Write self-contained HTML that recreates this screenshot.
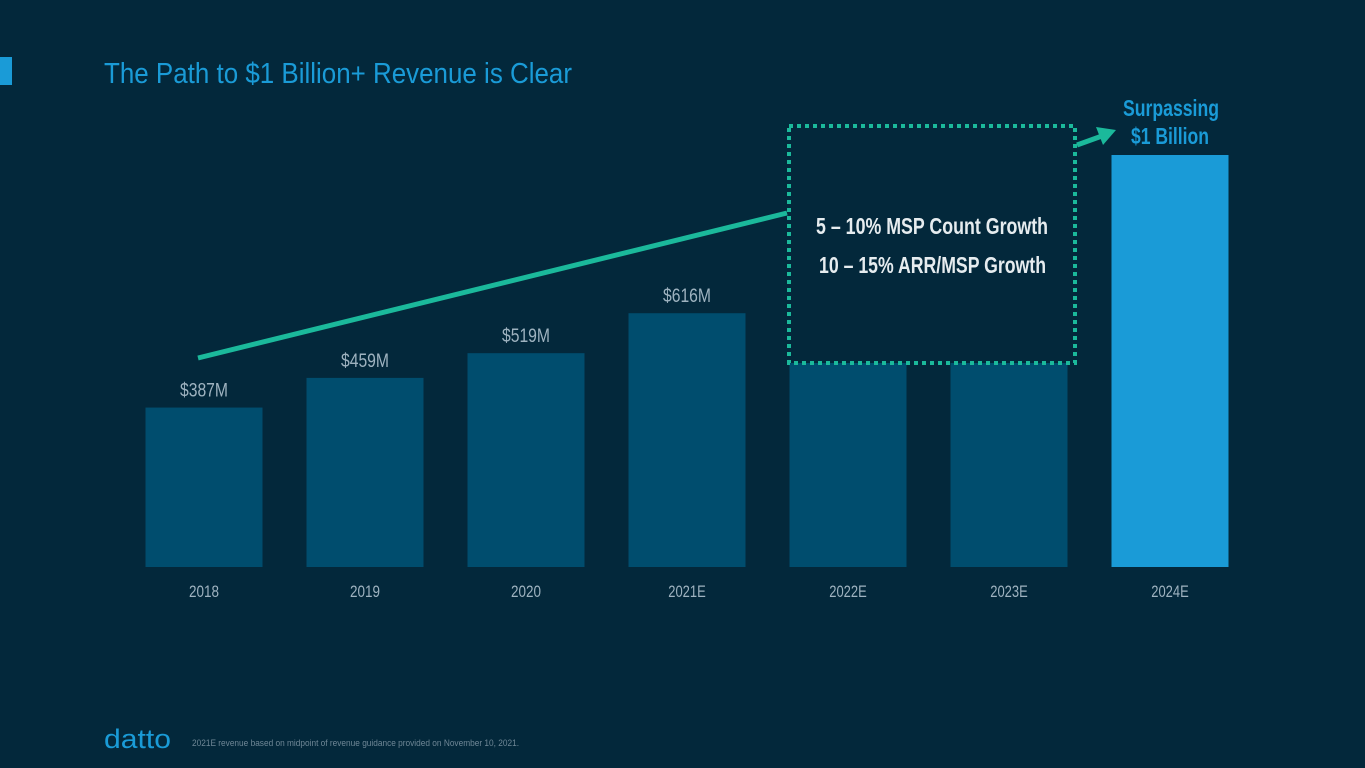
<!DOCTYPE html>
<html><head><meta charset="utf-8"><style>
html,body{margin:0;padding:0;background:#03283b;width:1365px;height:768px;overflow:hidden;font-family:"Liberation Sans",sans-serif}
svg{display:block}
</style></head><body>
<svg width="1365" height="768" xmlns="http://www.w3.org/2000/svg" font-family="Liberation Sans, sans-serif">
<rect x="0" y="0" width="1365" height="768" fill="#03283b"/>
<rect x="0" y="57" width="12" height="28" fill="#1a9bd7"/>
<text x="104" y="83" fill="#1a9bd7" font-size="29" textLength="468" lengthAdjust="spacingAndGlyphs">The Path to $1 Billion+ Revenue is Clear</text>
<g id="bars"></g>
<line x1="198" y1="358" x2="787" y2="213" stroke="#1bb99b" stroke-width="5"/>
<rect x="789" y="126" width="286" height="237" fill="#03283b" stroke="#1bb99b" stroke-width="4" stroke-dasharray="4 4"/>
<text x="816" y="234" fill="#e6ecef" font-size="23" font-weight="bold" textLength="232" lengthAdjust="spacingAndGlyphs">5 – 10% MSP Count Growth</text>
<text x="819" y="273" fill="#e6ecef" font-size="23" font-weight="bold" textLength="227" lengthAdjust="spacingAndGlyphs">10 – 15% ARR/MSP Growth</text>
<line x1="1077" y1="145" x2="1102" y2="136" stroke="#1bb99b" stroke-width="5"/>
<polygon points="1116,130 1096,127 1103,145" fill="#1bb99b"/>
<text x="1123" y="116" fill="#1a9bd7" font-size="23" font-weight="bold" textLength="96" lengthAdjust="spacingAndGlyphs">Surpassing</text>
<text x="1131" y="144" fill="#1a9bd7" font-size="23" font-weight="bold" textLength="78" lengthAdjust="spacingAndGlyphs">$1 Billion</text>
<text x="104" y="748" fill="#1a9bd7" font-size="27" textLength="67" lengthAdjust="spacingAndGlyphs">datto</text>
<text x="192" y="746" fill="#6f8796" font-size="9" textLength="327" lengthAdjust="spacingAndGlyphs">2021E revenue based on midpoint of revenue guidance provided on November 10, 2021.</text>
</svg>
<script>
const categories = ["2018","2019","2020","2021E","2022E","2023E","2024E"];
const revenues = [387,459,519,616,720,850,1000];
const valueLabels = ["$387M","$459M","$519M","$616M","","",""];
const baseY = 567, pxPerM = 0.412, x0 = 204, step = 161, bw = 117;
const NS = "http://www.w3.org/2000/svg";
const g = document.getElementById("bars");
function xPos(i){return x0 + i*step;}
function yPos(v){return baseY - v*pxPerM;}
categories.forEach((c,i)=>{
  const r = document.createElementNS(NS,"rect");
  r.setAttribute("x", xPos(i)-bw/2);
  r.setAttribute("y", yPos(revenues[i]));
  r.setAttribute("width", bw);
  r.setAttribute("height", baseY - yPos(revenues[i]));
  r.setAttribute("fill", i===categories.length-1 ? "#1a9bd7" : "#004d6e");
  
  
  g.appendChild(r);
  const t = document.createElementNS(NS,"text");
  t.setAttribute("x", xPos(i)); t.setAttribute("y", 597);
  t.setAttribute("fill","#9fb3c0"); t.setAttribute("font-size","17");
  t.setAttribute("text-anchor","middle");
  t.setAttribute("textLength", c.length*7.5);
  t.setAttribute("lengthAdjust","spacingAndGlyphs");
  t.textContent = c;
  
  
  g.appendChild(t);
  if(valueLabels[i]){
    const v = document.createElementNS(NS,"text");
    v.setAttribute("x", xPos(i)); v.setAttribute("y", yPos(revenues[i]) - 11);
    v.setAttribute("fill","#9fb3c0"); v.setAttribute("font-size","19");
    v.setAttribute("text-anchor","middle");
    v.setAttribute("textLength", 48);
    v.setAttribute("lengthAdjust","spacingAndGlyphs");
    v.textContent = valueLabels[i];
    
    
    g.appendChild(v);
  }
});
</script>
</body></html>
